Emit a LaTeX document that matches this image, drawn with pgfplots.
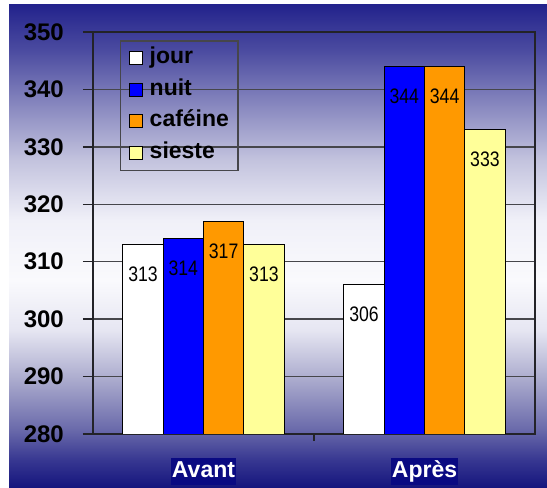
\documentclass[border=0pt]{standalone}
\usepackage{fontspec}
\setmainfont{Liberation Sans}
\newfontfamily\narrowfont[FakeStretch=0.84]{Liberation Sans}
\usepackage{pgfplots}
\pgfplotsset{compat=1.18}

% palette
\definecolor{barjour}{RGB}{255,255,255}
\definecolor{barnuit}{RGB}{0,0,255}
\definecolor{barcafe}{RGB}{255,153,0}
\definecolor{barsieste}{RGB}{255,255,153}
\definecolor{framecol}{RGB}{35,35,40}
\definecolor{gridcol}{RGB}{70,70,75}
\definecolor{labelbox}{RGB}{10,10,130}

% backdrop: navy at both edges, near white in the middle
% (a path shading maps the box onto the 25bp--75bp band)
\definecolor{g0}{RGB}{20,20,125}
\definecolor{g1}{RGB}{55,55,145}
\definecolor{g2}{RGB}{105,105,170}
\definecolor{g3}{RGB}{170,170,205}
\definecolor{g4}{RGB}{230,230,242}
\definecolor{g5}{RGB}{250,250,253}
\definecolor{g6}{RGB}{240,240,248}
\definecolor{g7}{RGB}{195,195,222}
\definecolor{g8}{RGB}{130,130,188}
\definecolor{g9}{RGB}{75,75,160}
\definecolor{g10}{RGB}{35,35,140}
\pgfdeclareverticalshading{backdrop}{100bp}{%
  color(0bp)=(g0); color(25bp)=(g0); color(27.9bp)=(g1); color(31bp)=(g2);
  color(36.18bp)=(g3); color(41.36bp)=(g4); color(46.53bp)=(g5);
  color(52.74bp)=(g6); color(58.95bp)=(g7); color(65.17bp)=(g8);
  color(70.34bp)=(g9); color(75bp)=(g10); color(100bp)=(g10)}

\begin{document}
\begin{tikzpicture}[x=1pt,y=1pt]
\useasboundingbox (0,0) rectangle (547,488);
\fill[white] (0,0) rectangle (547,488);
\shade[shading=backdrop] (9,0) rectangle (547,483);
\begin{axis}[
  at={(93pt,54pt)}, anchor=south west,
  scale only axis, width=442pt, height=402pt,
  ybar=0pt, bar width=40.3pt,
  xmin=-0.5, xmax=1.5,
  ymin=280, ymax=350,
  xtick={0,1}, xticklabels={Avant,Après},
  ytick={280,290,...,350},
  xtick pos=bottom, ytick pos=left,
  tick align=outside,
  major tick length=10pt,
  major x tick style={draw=none},
  extra x ticks={0.5}, extra x tick labels={},
  extra x tick style={grid=none, major tick length=7pt,
    major x tick style={draw=framecol, line width=1.2pt},
    xticklabel style={fill=none, draw=none}},
  ymajorgrids,
  major grid style={draw=gridcol, line width=1.5pt},
  axis line style={draw=framecol, line width=1.8pt},
  y tick style={draw=framecol, line width=1.5pt},
  /pgf/number format/assume math mode=true,
  yticklabel style={font=\bfseries\fontsize{24}{24}\selectfont, text=black,
    anchor=east, inner sep=0pt, xshift=-19pt},
  xticklabel style={font=\bfseries\fontsize{23}{23}\selectfont, text=white,
    fill=labelbox, anchor=north, inner xsep=1pt, inner ysep=2.5pt,
    text height=17pt, text depth=5pt, yshift=-14pt},
  nodes near coords,
  nodes near coords align={center},
  every node near coord/.append style={
    font=\narrowfont\fontsize{21}{21}\selectfont, text=black,
    anchor=center, yshift=-30pt},
  legend style={
    at={(0.061,0.98)}, anchor=north west,
    draw=gridcol, line width=1.5pt, fill=none,
    inner xsep=8pt, inner ysep=6pt, row sep=8.5pt,
    font=\bfseries\fontsize{23}{23}\selectfont,
    nodes={inner sep=1pt, text height=16pt, text depth=5pt},
    /tikz/every odd column/.append style={column sep=6pt},
  },
  legend cell align=left,
  legend image code/.code={%
    \draw[#1, draw=black, line width=1pt] (0pt,-6.5pt) rectangle (13pt,6.5pt);},
]
\addplot[fill=barjour, draw=black, line width=0.8pt]
  coordinates {(0,313) (1,306)};
\addplot[fill=barnuit, draw=black, line width=0.8pt]
  coordinates {(0,314) (1,344)};
\addplot[fill=barcafe, draw=black, line width=0.8pt]
  coordinates {(0,317) (1,344)};
\addplot[fill=barsieste, draw=black, line width=0.8pt]
  coordinates {(0,313) (1,333)};
\legend{jour,nuit,caféine,sieste}
\end{axis}
\end{tikzpicture}
\end{document}
